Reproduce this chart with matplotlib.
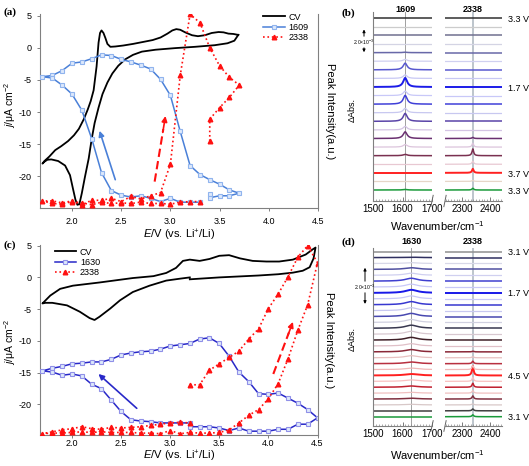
import matplotlib
matplotlib.use('Agg')
import matplotlib.pyplot as plt
import matplotlib.transforms as mtransforms
import numpy as np

plt.rcParams['font.family'] = ['Liberation Sans', 'DejaVu Sans']
plt.rcParams['mathtext.fontset'] = 'custom'
plt.rcParams['mathtext.rm'] = 'Liberation Sans'
plt.rcParams['mathtext.it'] = 'Liberation Sans:italic'
plt.rcParams['axes.unicode_minus'] = False

# ---------------- data: panel (a) ----------------
cv_a_E = [3.69, 3.64, 3.59, 3.54, 3.49, 3.42, 3.35, 3.28, 3.22, 3.15, 3.10, 3.06, 3.02, 2.97, 2.90, 2.82,
          2.72, 2.62, 2.52, 2.44, 2.39, 2.36, 2.34, 2.32, 2.30, 2.285, 2.27, 2.25, 2.22, 2.19, 2.16, 2.12,
          2.07, 2.02, 1.96, 1.89, 1.83, 1.77, 1.72, 1.70,
          1.72, 1.75, 1.79, 1.86, 1.93, 1.98, 2.01, 2.035, 2.055, 2.075, 2.10, 2.13, 2.17, 2.20, 2.23,
          2.27, 2.31, 2.36, 2.41, 2.47, 2.54, 2.62, 2.71, 2.85, 3.05, 3.25, 3.45, 3.58, 3.65, 3.69]
cv_a_j = [2.0, 2.15, 2.2, 2.4, 2.45, 2.3, 1.95, 1.8, 1.95, 2.4, 2.8, 2.9, 2.7, 2.2, 1.6, 1.2,
          0.9, 0.6, 0.35, 0.2, 0.15, 0.6, 1.5, 2.3, 2.7, 2.3, 0.8, -2.9, -6.6, -8.3, -9.6, -11.1,
          -12.6, -13.6, -14.5, -15.3, -15.9, -16.9, -17.6, -18.0,
          -17.7, -17.4, -17.35, -17.6, -18.3, -19.8, -21.9, -23.6, -24.4, -24.3, -22.6, -20.2, -17.2, -14.2, -11.7,
          -9.3, -7.2, -5.4, -4.0, -2.8, -1.8, -1.1, -0.6, -0.3, -0.05, 0.15, 0.4, 0.7, 1.1, 2.0]

band_a_E = [3.4, 3.4, 3.5, 3.6, 3.7, 3.6, 3.5, 3.4, 3.3, 3.2, 3.1, 3.0, 2.9, 2.8, 2.7, 2.6, 2.5, 2.4, 2.3, 2.2,
            2.1, 2.0, 1.9, 1.8, 1.7, 1.8, 1.9, 2.0, 2.1, 2.2, 2.3, 2.4, 2.5, 2.6, 2.7, 2.8, 2.9, 3.0, 3.1,
            3.2, 3.3]
band_a_I = [-22.7, -23.3, -23.0, -23.0, -22.6, -22.1, -21.2, -20.5, -19.7, -18.3, -13.0, -7.4, -4.9, -3.3,
            -2.7, -2.2, -1.8, -1.2, -1.1, -1.7, -2.2, -2.4, -3.55, -4.3, -4.5, -4.7, -5.8, -7.2, -9.7,
            -14.1, -19.4, -22.2, -22.9, -23.2, -23.0, -23.4, -23.9, -23.4, -24.0, -24.0, -24.0]

co2_a_E = [3.4, 3.4, 3.5, 3.6, 3.7, 3.6, 3.5, 3.4, 3.3, 3.2, 3.1, 3.0, 2.9, 2.8, 2.7, 2.6, 2.5, 2.4, 2.3, 2.2,
           2.1, 2.0, 1.9, 1.8, 1.7, 1.8, 1.9, 2.0, 2.1, 2.2, 2.3, 2.4, 2.5, 2.6, 2.7, 2.8, 2.9, 3.0, 3.1,
           3.2, 3.3]
co2_a_I = [-14.5, -11.1, -9.3, -7.7, -5.8, -4.6, -2.8, 0.0, 3.9, 5.2, -4.3, -18.1, -22.5, -23.0, -23.5,
           -23.1, -23.9, -23.4, -23.7, -23.7, -24.4, -23.8, -24.1, -23.8, -23.8, -24.2, -24.3, -23.9,
           -24.1, -24.4, -24.0, -24.2, -24.1, -24.2, -24.0, -24.2, -24.2, -24.3, -24.0, -23.9, -23.9]

# ---------------- data: panel (c) ----------------
cv_c_E = [3.20, 3.30, 3.50, 3.70, 3.90, 4.10, 4.25, 4.35, 4.42, 4.46, 4.48,
          4.45, 4.38, 4.25, 4.11, 3.98, 3.84, 3.71, 3.60, 3.50, 3.40, 3.30, 3.20, 3.13, 3.06, 2.96, 2.83,
          2.62, 2.28, 2.01, 1.88, 1.78, 1.70,
          1.73, 1.80, 1.95, 2.08, 2.18, 2.23, 2.28, 2.39, 2.49, 2.62, 2.79, 2.96, 3.10, 3.20]
cv_c_j = [-0.3, -0.2, 0.0, 0.15, 0.3, 0.5, 0.75, 1.05, 1.6, 3.0, 4.7,
          4.4, 3.6, 2.8, 2.5, 2.5, 2.6, 3.0, 3.5, 3.4, 2.9, 2.6, 2.8, 2.6, 1.5, 0.7, 0.2,
          -0.1, -0.8, -1.3, -1.8, -2.85, -4.1,
          -4.0, -4.0, -4.4, -5.4, -6.4, -6.7, -6.2, -4.9, -3.6, -2.3, -1.3, -0.5, -0.2, 0.0]

band_c_E = [3.2, 3.3, 3.4, 3.5, 3.6, 3.7, 3.8, 3.9, 4.0, 4.1, 4.2, 4.3, 4.4, 4.5, 4.4, 4.3, 4.2, 4.1, 4.0,
            3.9, 3.8, 3.7, 3.6, 3.5, 3.4, 3.3, 3.2, 3.1, 3.0, 2.9, 2.8, 2.7, 2.6, 2.5, 2.4, 2.3, 2.2, 2.1,
            2.0, 1.9, 1.8, 1.7, 1.8, 1.9, 2.0, 2.1, 2.2, 2.3, 2.4, 2.5, 2.6, 2.7, 2.8, 2.9, 3.0, 3.1, 3.2]
band_c_I = [-23.5, -23.5, -23.5, -23.7, -24.1, -23.7, -24.2, -24.2, -24.2, -23.9, -23.9, -23.1, -23.1,
            -22.1, -20.8, -19.8, -19.0, -18.2, -18.4, -18.3, -16.4, -14.9, -12.4, -10.4, -9.5, -9.7,
            -10.4, -10.6, -10.8, -11.3, -11.6, -11.7, -11.9, -12.2, -12.9, -13.3, -13.3, -13.5, -13.6,
            -14.0, -14.3, -14.7, -14.9, -15.4, -15.2, -15.5, -16.8, -17.5, -19.3, -21.1, -22.4, -22.6,
            -22.7, -22.9, -22.9, -22.9, -22.9]

co2_c_E = [3.2, 3.3, 3.4, 3.5, 3.6, 3.7, 3.8, 3.9, 4.0, 4.1, 4.2, 4.3, 4.4, 4.5, 4.4, 4.3, 4.2, 4.1, 4.0,
           3.9, 3.8, 3.7, 3.6, 3.5, 3.4, 3.3, 3.2, 3.1, 3.0, 2.9, 2.8, 2.7, 2.6, 2.5, 2.4, 2.3, 2.2, 2.1,
           2.0, 1.9, 1.8, 1.7, 1.8, 1.9, 2.0, 2.1, 2.2, 2.3, 2.4, 2.5, 2.6, 2.7, 2.8, 2.9, 3.0, 3.1, 3.2]
co2_c_I = [-16.9, -16.9, -14.6, -13.6, -12.6, -11.6, -9.7, -8.1, -4.9, -2.6, 0.1, 3.2, 5.0, 2.3, -4.3,
           -8.3, -12.8, -16.7, -19.1, -20.8, -21.7, -22.9, -24.0, -24.4, -24.5, -24.5, -24.4, -24.6,
           -24.1, -24.6, -24.5, -24.5, -24.4, -24.4, -24.4, -24.3, -24.4, -24.3, -24.4, -24.5, -24.5,
           -24.6, -24.3, -24.0, -23.8, -23.5, -23.8, -23.9, -23.6, -23.7, -23.6, -23.5, -23.3, -23.1,
           -22.9, -22.8, -22.9]

# ---------------- data: spectra (b) and (d) ----------------
b_labels = {20: '3.3 V', 12: '1.7 V', 2: '3.7 V', 0: '3.3 V'}
b_band_amp = [0.04, 0.0, 0.0, 0.0, 0.09, 0.18, 0.47, 0.25, 0.56, 0.31, 0.62, 0.31, 0.64, 0.25, 0.47,
              0.13, 0.03, 0.0, 0.0, 0.0, 0.0]
b_co2_amp = [0.12, 0.08, 0.28, 0.22, 0.48, 0.28, 0.08, 0.0, 0.0, 0.0, 0.0, 0.0, 0.0, 0.0, 0.0, 0.0,
             0.0, 0.0, 0.0, 0.0, 0.0]
b_colors = ['#1a9a3a', '#e6d6c8', '#ff2020', '#e8c8d2', '#7a3050', '#dcc4dc', '#6a3070', '#d4c4e4',
            '#5a44a8', '#c8c8f0', '#4040d8', '#c8c8f8', '#1c1ce8', '#c8c8f4', '#5858d0', '#d0d0f0',
            '#6868a8', '#d4d4e4', '#707090', '#cccccc', '#303030']

d_labels = {28: '3.1 V', 21: '1.7 V', 7: '4.5 V', 0: '3.1 V'}
d_band_amp = [0.0, 0.0, 0.03, 0.04, 0.04, 0.06, 0.07, 0.07, 0.07, 0.08, 0.10, 0.11, 0.11, 0.13, 0.14,
              0.15, 0.14, 0.15, 0.14, 0.15, 0.14, 0.15, 0.14, 0.14, 0.10, 0.08, 0.04, 0.02, 0.0]
d_co2_amp = [0.09, 0.09, 0.06, 0.15, 0.12, 0.19, 0.19, 0.46, 0.19, 0.12, 0.06, 0.03, 0.0, 0.0, 0.0,
             0.0, 0.0, 0.0, 0.0, 0.0, 0.0, 0.0, 0.0, 0.0, 0.0, 0.0, 0.0, 0.0, 0.0]
d_colors = ['#1a9a3a', '#404040', '#d8c8c8', '#803040', '#f0c0c0', '#c02030', '#f8c0c0', '#ff2020',
            '#f0b8b8', '#b83040', '#e8c0c0', '#8a2838', '#e0c0c8', '#402028', '#d8c8d0', '#383850',
            '#d0d0e0', '#4848b0', '#c8c8f0', '#3838d0', '#c8c8f8', '#1818e8', '#c8c8f8', '#4040d0',
            '#d0d0f0', '#5050a0', '#d8d8e8', '#303060', '#909090']

W, H = 529, 466
fig = plt.figure(figsize=(W / 100, H / 100), dpi=100)


def fr(x0, y0, x1, y1):
    return [x0 / W, 1 - y1 / H, (x1 - x0) / W, (y1 - y0) / H]


SPINE = '#808080'


def cv_panel(rect, ylim, cvE, cvj, bE, bI, blabel, bcolor, bmec, cE, cI, legend_anchor,
             blue_arrow, red_arrow, tickpad, ticklen):
    ax = fig.add_axes(rect)
    ax.set_xlim(1.675, 4.5)
    ax.set_ylim(*ylim)
    ax.plot(cvE, cvj, color='black', lw=1.3, label='CV', zorder=3)
    ax2 = ax.twinx()
    ax2.set_ylim(*ylim)
    lb, = ax2.plot(bE, bI, color=bcolor, lw=1.1, marker='s', ms=3.0, mfc='#dde8fb', mec=bmec,
                   mew=0.8, label=blabel)
    lr, = ax2.plot(cE, cI, color='#ff1010', lw=1.2, ls=':', marker='^', ms=3.3, mfc='#ff1010',
                   mec='#ff1010', label='2338')
    (bx0, by0), (bx1, by1) = blue_arrow
    ax2.annotate('', xy=(bx1, by1), xytext=(bx0, by0),
                 arrowprops=dict(arrowstyle='-|>', color=bcolor, lw=1.2, mutation_scale=8,
                                 shrinkA=0, shrinkB=0))
    (rx0, ry0), (rx1, ry1) = red_arrow
    ax2.plot([rx0, rx0 + 0.8 * (rx1 - rx0)], [ry0, ry0 + 0.8 * (ry1 - ry0)], color='#ff1010',
             lw=1.5, ls=(0, (4, 2)))
    ax2.annotate('', xy=(rx1, ry1), xytext=(rx0 + 0.75 * (rx1 - rx0), ry0 + 0.75 * (ry1 - ry0)),
                 arrowprops=dict(arrowstyle='-|>', color='#ff1010', lw=1.2, mutation_scale=8,
                                 shrinkA=0, shrinkB=0))
    for a in (ax, ax2):
        a.spines['top'].set_visible(False)
        for s in a.spines.values():
            s.set_color(SPINE)
            s.set_linewidth(0.8)
    ax2.spines['left'].set_visible(False)
    ax2.spines['bottom'].set_visible(False)
    ax.spines['right'].set_visible(False)
    ax2.set_yticks([])
    ax.set_xticks([2.0, 2.5, 3.0, 3.5, 4.0, 4.5])
    ax.set_xticklabels(['2.0', '2.5', '3.0', '3.5', '4.0', '4.5'])
    ax.set_yticks([5, 0, -5, -10, -15, -20])
    ax.set_yticklabels(['5', '0', '-5', '-10', '-15', '-20'])
    ax.tick_params(axis='both', direction='out', length=2.5, width=0.7, color=SPINE,
                   labelsize=6.5)
    ax.tick_params(axis='x', pad=tickpad, length=ticklen)
    ax.set_xlabel(r'$E$/V (vs. Li$^{+}$/Li)', fontsize=8)
    ax.set_ylabel(r'$j$/μA cm$^{-2}$', fontsize=7.5)
    ax2.set_ylabel('Peak Intensity(a.u.)', fontsize=8, rotation=270, labelpad=12)
    ax.legend([ax.lines[0], lb, lr], ['CV', blabel, '2338'], loc='upper left',
              bbox_to_anchor=legend_anchor, frameon=False, fontsize=6.5, handlelength=2.4,
              labelspacing=0.15, borderpad=0.2, handletextpad=0.4)
    return ax, ax2


axa, axa2 = cv_panel(fr(40, 14, 318, 208), (-24.9, 5.25), cv_a_E, cv_a_j, band_a_E, band_a_I,
                     '1609', '#4a80d8', '#90b4ee', co2_a_E, co2_a_I, (0.78, 1.04),
                     ((2.44, -20.5), (2.28, -12.9)), ((2.84, -20.8), (2.95, -10.6)), 4, 2.5)
axa.xaxis.set_label_coords(0.5, -0.1)
axa.yaxis.set_label_coords(-0.08, 0.53)

axc, axc2 = cv_panel(fr(40, 245, 317.5, 435), (-24.8, 5.1), cv_c_E, cv_c_j, band_c_E, band_c_I,
                     '1630', '#2828c8', '#9090e8', co2_c_E, co2_c_I, (0.03, 1.02),
                     ((2.66, -20.6), (2.27, -15.2)), ((4.05, -15.2), (4.25, -7.0)), 1.0, 2.0)
axc.xaxis.set_label_coords(0.5, -0.075)
axc.yaxis.set_label_coords(-0.08, 0.49)


def lorentz(x, x0, g):
    return g ** 2 / ((x - x0) ** 2 + g ** 2)


def spec_panel(ytop, ybot, trace_top, trace_bot, n, band_pos, band_w, band_amp, co2_amp, colors,
               labels, head_y, bar, strong_idx):
    sp_px = (trace_bot - trace_top) / (n - 1)
    px_per_unit = (bar[1] - bar[0]) / 2.0
    sp = sp_px / px_per_unit
    ylo = -(ybot - trace_bot) / px_per_unit
    yhi = ylo + (ybot - ytop) / px_per_unit
    axL = fig.add_axes(fr(373, ytop, 432, ybot))
    axR = fig.add_axes(fr(445, ytop, 502, ybot))
    axL.set_xlim(1500, 1700)
    axR.set_xlim(2238, 2443)
    xl = np.linspace(1500, 1700, 401)
    xr = np.linspace(2238, 2443, 411)
    for i in range(n):
        base = i * sp
        strong = (i % 2 == strong_idx) or i == 0 or i == n - 1
        lw = 1.1 if strong else 0.9
        if colors[i] in ('#1c1ce8', '#1818e8', '#ff2020'):
            lw = 1.4
        axL.plot(xl, base + band_amp[i] * lorentz(xl, band_pos, band_w), color=colors[i], lw=lw)
        axR.plot(xr, base + co2_amp[i] * lorentz(xr, 2338, 3.5), color=colors[i], lw=lw)
    for a in (axL, axR):
        a.set_ylim(ylo, yhi)
        a.set_yticks([])
        a.patch.set_alpha(0)
        for s in ('top', 'right'):
            a.spines[s].set_visible(False)
        a.spines['bottom'].set_color(SPINE)
        a.spines['left'].set_color(SPINE)
        a.spines['bottom'].set_linewidth(0.8)
        a.spines['left'].set_linewidth(0.8)
        a.tick_params(axis='x', which='major', direction='in', length=3, width=0.6, color='#666666',
                      labelsize=7, pad=2)
        a.tick_params(axis='x', which='minor', direction='in', length=1.5, width=0.5,
                      color='#888888')
    axR.spines['left'].set_visible(False)
    axL.set_xticks([1500, 1600, 1700])
    axL.set_xticks(np.arange(1500, 1701, 10), minor=True)
    axR.set_xticks([2300, 2400])
    axR.set_xticks(np.arange(2240, 2441, 10), minor=True)
    axL.axvline(band_pos, color='#a0a0a0', lw=0.7, zorder=0)
    axR.axvline(2338, color='#b8c0c8', lw=1.3, zorder=0)
    for a, xa in ((axL, 1.0), (axR, 0.0)):
        a.plot([xa - 0.02, xa + 0.02], [-0.03, 0.03], transform=a.transAxes, color='#666666',
               lw=0.7, clip_on=False)
    tL = mtransforms.blended_transform_factory(axL.transData, fig.transFigure)
    tR = mtransforms.blended_transform_factory(axR.transData, fig.transFigure)
    axL.text(band_pos, 1 - head_y / H, str(band_pos), transform=tL, ha='center', va='center',
             fontsize=6.5, fontweight='bold')
    axR.text(2338, 1 - head_y / H, '2338', transform=tR, ha='center', va='center',
             fontsize=6.5, fontweight='bold')
    tV = mtransforms.blended_transform_factory(fig.transFigure, axR.transData)
    for i, lab in labels.items():
        axR.text(508 / W, i * sp - 0.15 * sp, lab, transform=tV, ha='left', va='center',
                 fontsize=6.5)
    return axL, axR


bL, bR = spec_panel(12, 201, 18.3, 190, 21, 1609, 8.0, b_band_amp, b_co2_amp, b_colors,
                    b_labels, 10, (26.7, 55.0), 0)
dL, dR = spec_panel(248, 426, 251.7, 416.7, 29, 1630, 25.0, d_band_amp, d_co2_amp, d_colors,
                    d_labels, 241.5, (265.0, 306.7), 1)


def scalebar(x, ytop, ybot, ytext):
    fig.text(x / W, 1 - ytext / H, '2.0×10$^{-3}$', fontsize=3.6, ha='center', va='center')
    for yend in (ytop, ybot):
        fig.add_artist(matplotlib.patches.FancyArrowPatch(
            (x / W, 1 - (ytext + (3 if yend > ytext else -3)) / H), (x / W, 1 - yend / H),
            transform=fig.transFigure, arrowstyle='-|>', mutation_scale=4, lw=0.7,
            color='black'))


scalebar(364, 26.7, 55, 42)
scalebar(365, 265, 306.7, 287)

fig.text(352 / W, 1 - 110 / H, 'ΔAbs.', rotation=90, fontsize=6.5, ha='center', va='center')
fig.text(352 / W, 1 - 339 / H, 'ΔAbs.', rotation=90, fontsize=6.5, ha='center', va='center')
fig.text(437 / W, 1 - 226 / H, 'Wavenumber/cm$^{-1}$', fontsize=8, ha='center', va='center')
fig.text(437 / W, 1 - 455 / H, 'Wavenumber/cm$^{-1}$', fontsize=8, ha='center', va='center')

for lab, x, y in (('(a)', 3, 12), ('(b)', 342, 13), ('(c)', 3, 245), ('(d)', 342, 242)):
    fig.text(x / W, 1 - y / H, lab, fontsize=8, fontweight='bold',
             family=['Liberation Serif', 'DejaVu Serif'], ha='left', va='center')

fig.savefig('out.png', dpi=100)
